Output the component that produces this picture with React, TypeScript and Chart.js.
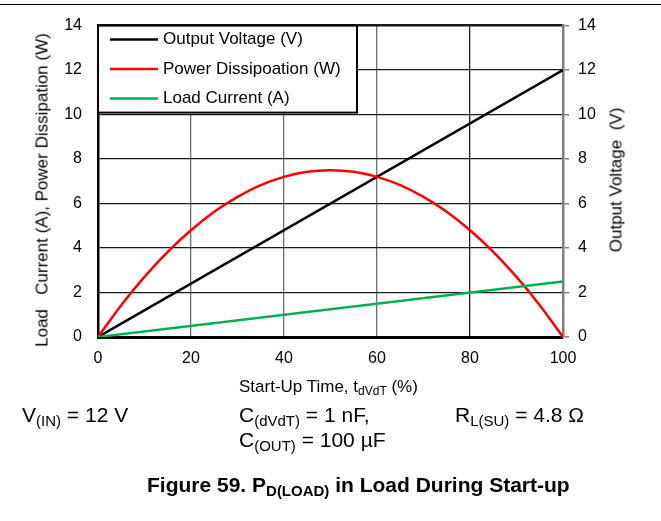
import React, { useEffect, useRef } from 'react';
import { Chart, registerables } from 'chart.js';

Chart.register(...registerables);

// ---- data ----
const timePct = [0, 5, 10, 15, 20, 25, 30, 35, 40, 45, 50, 55, 60, 65, 70, 75, 80, 85, 90, 95, 100];
const powerW = [0, 1.43, 2.7, 3.83, 4.8, 5.63, 6.3, 6.83, 7.2, 7.43, 7.5, 7.43, 7.2, 6.83, 6.3, 5.63, 4.8, 3.83, 2.7, 1.43, 0];
const voltageTime = [0, 100];
const voltageV = [0, 12];
const currentTime = [0, 100];
const currentA = [0, 2.5];
const xTicks = [0, 20, 40, 60, 80, 100];
const yTicks = [0, 2, 4, 6, 8, 10, 12, 14];
const seriesLabels = ['Output Voltage (V)', 'Power Dissipoation (W)', 'Load Current (A)'];
const seriesColors = ['#000000', '#ff0000', '#00b050'];

const FONT = '"Liberation Sans", Arial, Helvetica, sans-serif';

const boxLegend = {
  id: 'boxLegend',
  afterDatasetsDraw(chart: any) {
    const { ctx, chartArea } = chart;
    const x0 = chartArea.left;
    const y0 = chartArea.top;
    const w = 259;
    const h = 87;
    ctx.save();
    ctx.fillStyle = '#ffffff';
    ctx.fillRect(x0, y0, w, h);
    ctx.strokeStyle = '#000000';
    ctx.lineWidth = 2;
    ctx.strokeRect(x0, y0, w, h);
    const rows = [14, 43.5, 73];
    chart.data.datasets.forEach((ds: any, i: number) => {
      const y = y0 + rows[i];
      ctx.strokeStyle = ds.borderColor;
      ctx.lineWidth = 2.5;
      ctx.beginPath();
      ctx.moveTo(x0 + 12, y);
      ctx.lineTo(x0 + 60, y);
      ctx.stroke();
      ctx.fillStyle = '#000';
      ctx.font = `17px ${FONT}`;
      ctx.textAlign = 'left';
      ctx.textBaseline = 'middle';
      ctx.fillText(ds.label, x0 + 65, y);
    });
    ctx.restore();
  },
};

function Txt(props: { x: number; base: number; size: number; bold?: boolean; children: any }) {
  const { x, base, size, bold, children } = props;
  return (
    <div
      style={{
        position: 'absolute',
        left: x,
        top: base - size * 0.8465,
        fontSize: size,
        lineHeight: `${size}px`,
        fontFamily: FONT,
        fontWeight: bold ? 'bold' : 'normal',
        whiteSpace: 'pre',
        color: '#000',
      }}
    >
      {children}
    </div>
  );
}

function Sub(props: { size: number; dy: number; children: any }) {
  return (
    <span style={{ fontSize: props.size, position: 'relative', top: props.dy, lineHeight: 0 }}>
      {props.children}
    </span>
  );
}

export default function App() {
  const ref = useRef<HTMLCanvasElement | null>(null);

  useEffect(() => {
    if (!ref.current) return;
    const tickFont = { family: FONT, size: 16 };
    const chart = new Chart(ref.current, {
      type: 'line',
      data: {
        datasets: [
          {
            label: seriesLabels[0],
            data: voltageTime.map((t, i) => ({ x: t, y: voltageV[i] })),
            borderColor: seriesColors[0],
            borderWidth: 2.5,
            pointRadius: 0,
            yAxisID: 'y1',
            order: 2,
          },
          {
            label: seriesLabels[1],
            data: timePct.map((t, i) => ({ x: t, y: powerW[i] })),
            borderColor: seriesColors[1],
            borderWidth: 2.5,
            pointRadius: 0,
            cubicInterpolationMode: 'monotone',
            yAxisID: 'y',
            order: 1,
          },
          {
            label: seriesLabels[2],
            data: currentTime.map((t, i) => ({ x: t, y: currentA[i] })),
            borderColor: seriesColors[2],
            borderWidth: 2.5,
            pointRadius: 0,
            yAxisID: 'y',
            order: 0,
          },
        ],
      },
      options: {
        responsive: false,
        animation: false,
        maintainAspectRatio: false,
        layout: { padding: { top: 21, left: 0, right: 0, bottom: 0 } },
        plugins: { legend: { display: false }, tooltip: { enabled: false }, title: { display: false } },
        scales: {
          x: {
            type: 'linear',
            position: 'bottom',
            min: 0,
            max: 100,
            afterBuildTicks: (s: any) => {
              s.ticks = xTicks.map((v) => ({ value: v }));
            },
            afterFit: (s: any) => {
              s.height = 184;
            },
            ticks: { color: '#000', font: tickFont, padding: 12, maxRotation: 0 },
            grid: {
              drawTicks: false,
              color: (c: any) => (c.tick && c.tick.value === 80 ? '#222222' : '#6e6e6e'),
              lineWidth: 1.3,
            },
            border: { color: '#000', width: 3 },
          },
          y: {
            type: 'linear',
            position: 'left',
            min: 0,
            max: 14,
            afterBuildTicks: (s: any) => {
              s.ticks = yTicks.map((v) => ({ value: v }));
            },
            afterFit: (s: any) => {
              s.width = 98;
            },
            ticks: { color: '#000', font: tickFont, padding: 16 },
            grid: {
              drawTicks: false,
              color: '#1a1a1a',
              lineWidth: (c: any) => (c.tick && c.tick.value === 14 ? 2.5 : 1.2),
            },
            border: { color: '#000', width: 2.5 },
          },
          y1: {
            type: 'linear',
            position: 'right',
            min: 0,
            max: 14,
            afterBuildTicks: (s: any) => {
              s.ticks = yTicks.map((v) => ({ value: v }));
            },
            afterFit: (s: any) => {
              s.width = 98;
            },
            ticks: { color: '#000', font: tickFont, padding: 9 },
            grid: {
              drawOnChartArea: false,
              drawTicks: true,
              tickLength: 6,
              color: '#808080',
              lineWidth: 1.5,
            },
            border: { color: '#808080', width: 2.5 },
          },
        },
      },
      plugins: [boxLegend],
    } as any);
    return () => chart.destroy();
  }, []);

  return (
    <div
      style={{
        position: 'fixed',
        left: 0,
        top: 0,
        width: 661,
        height: 521,
        background: '#fff',
        overflow: 'hidden',
        fontFamily: FONT,
      }}
    >
      <div style={{ position: 'absolute', left: 0, top: 4, width: 661, height: 1, background: '#000' }} />
      <canvas ref={ref} width={661} height={521} style={{ position: 'absolute', left: 0, top: 0 }} />
      <div
        style={{
          position: 'absolute',
          left: 42,
          top: 190,
          fontSize: 17,
          lineHeight: '17px',
          whiteSpace: 'pre',
          fontFamily: FONT,
          transform: 'translate(-50%, -50%) rotate(-90deg)',
        }}
      >
        {'Load   Current (A), Power Dissipation (W)'}
      </div>
      <div
        style={{
          position: 'absolute',
          left: 616,
          top: 180,
          fontSize: 17,
          lineHeight: '17px',
          whiteSpace: 'pre',
          fontFamily: FONT,
          transform: 'translate(-50%, -50%) rotate(-90deg)',
        }}
      >
        {'Output Voltage  (V)'}
      </div>
      <Txt x={239} base={392} size={17}>
        {'Start-Up Time, t'}
        <Sub size={12} dy={3}>dVdT</Sub>
        {' (%)'}
      </Txt>
      <Txt x={22} base={422} size={21}>
        {'V'}
        <Sub size={15} dy={4}>(IN)</Sub>
        {' = 12 V'}
      </Txt>
      <Txt x={239} base={422} size={21}>
        {'C'}
        <Sub size={15} dy={4}>(dVdT)</Sub>
        {' = 1 nF,'}
      </Txt>
      <Txt x={239} base={447} size={21}>
        {'C'}
        <Sub size={15} dy={4}>(OUT)</Sub>
        {' = 100 µF'}
      </Txt>
      <Txt x={455} base={422} size={21}>
        {'R'}
        <Sub size={15} dy={4}>L(SU)</Sub>
        {' = 4.8 Ω'}
      </Txt>
      <Txt x={147} base={492} size={21} bold>
        {'Figure 59. P'}
        <Sub size={15} dy={4}>D(LOAD)</Sub>
        {' in Load During Start-up'}
      </Txt>
    </div>
  );
}
